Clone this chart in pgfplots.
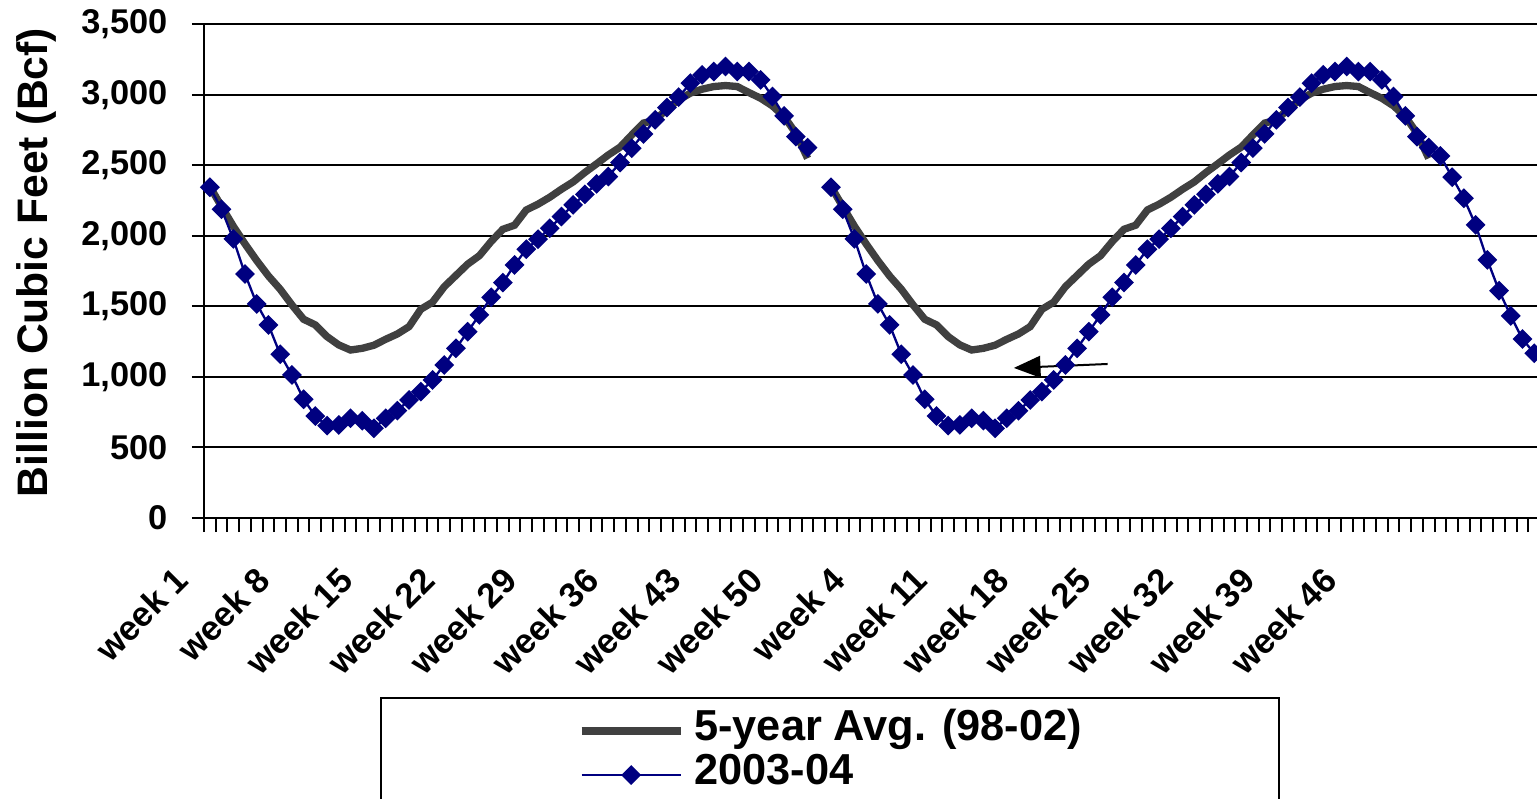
\documentclass[border=0pt]{standalone}
\usepackage{fontspec}
\setmainfont{Liberation Sans}
\usepackage{pgfplots}
\usepackage{pgfplotstable}
\pgfplotsset{compat=1.18}
\usetikzlibrary{arrows.meta}
\definecolor{navy}{RGB}{0,0,128}
\definecolor{avggray}{RGB}{64,64,64}
\pgfplotstableread{
x avg cur
0 2350 2345
1 2208 2189
2 2069 1979
3 1943 1730
4 1825 1518
5 1716 1369
6 1622 1161
7 1511 1014
8 1409 842
9 1369 723
10 1286 655
11 1227 660
12 1191 707
13 1203 690
14 1225 636
15 1267 707
16 1305 761
17 1357 837
18 1480 896
19 1530 979
20 1640 1085
21 1720 1203
22 1800 1321
23 1860 1440
24 1960 1565
25 2047 1669
26 2076 1794
27 2184 1906
28 2225 1977
29 2274 2054
30 2331 2137
31 2383 2220
32 2450 2295
33 2511 2369
34 2574 2421
35 2629 2520
36 2716 2622
37 2800 2723
38 2820 2823
39 2900 2910
40 2964 2984
41 3012 3083
42 3040 3142
43 3059 3165
44 3066 3201
45 3059 3165
46 3016 3165
47 2976 3106
48 2922 2988
49 2846 2851
50 2728 2704
51 2550 2626
52 nan nan
53 2350 2345
54 2208 2189
55 2069 1979
56 1943 1730
57 1825 1518
58 1716 1369
59 1622 1161
60 1511 1014
61 1409 842
62 1369 723
63 1286 655
64 1227 660
65 1191 707
66 1203 690
67 1225 636
68 1267 707
69 1305 761
70 1357 837
71 1480 896
72 1530 979
73 1640 1085
74 1720 1203
75 1800 1321
76 1860 1440
77 1960 1565
78 2047 1669
79 2076 1794
80 2184 1906
81 2225 1977
82 2274 2054
83 2331 2137
84 2383 2220
85 2450 2295
86 2511 2369
87 2574 2421
88 2629 2520
89 2716 2622
90 2800 2723
91 2820 2823
92 2900 2910
93 2964 2984
94 3012 3083
95 3040 3142
96 3059 3165
97 3066 3201
98 3059 3165
99 3016 3165
100 2976 3106
101 2922 2988
102 2846 2851
103 2728 2704
104 2550 2626
105 nan 2567
106 nan 2416
107 nan 2267
108 nan 2078
109 nan 1830
110 nan 1612
111 nan 1433
112 nan 1269
113 nan 1168
}\storage

\begin{document}
\begin{tikzpicture}
\begin{axis}[
  at={(0,0)}, anchor=south west,
  scale only axis, width=399.9pt, height=148.11pt,
  xmin=-0.5, xmax=113.24, ymin=0, ymax=3500,
  clip=false,
  axis lines*=left,
  axis line style={line width=0.6pt, black},
  tick align=outside,
  major tick length=3.6pt, minor tick length=4.2pt,
  tick style={black, line width=0.6pt},
  ytick={0,500,...,3500},
  yticklabels={0,500,{1,000},{1,500},{2,000},{2,500},{3,000},{3,500}},
  ymajorgrids, grid style={line width=0.6pt, black},
  xtick={0,7,...,98},
  xticklabels={week 1,week 8,week 15,week 22,week 29,week 36,week 43,week 50,week 4,week 11,week 18,week 25,week 32,week 39,week 46},
  minor xtick={-0.5,0.5,...,113},
  major x tick style={draw=none},
  yticklabel style={font=\fontsize{10.3}{12}\selectfont\bfseries, inner sep=0pt, anchor=east, xshift=-7.2pt},
  xticklabel style={font=\fontsize{10.4}{12}\selectfont\bfseries, inner sep=0pt, xshift=-11.1pt, yshift=-10.2pt, rotate=45, anchor=north east},
  ylabel={Billion Cubic Feet (Bcf)},
  every axis y label/.style={at={(axis description cs:-0.1175,0.5175)}, rotate=90, anchor=base, font=\fontsize{12.8}{15}\selectfont\bfseries},
  legend style={at={(axis description cs:0.1320,-0.3626)}, anchor=north west,
    draw=black, line width=0.6pt, inner xsep=59.1pt, inner ysep=3.3pt,
    font=\fontsize{13}{15}\selectfont\bfseries,
    row sep=0pt, column sep=3pt,
    nodes={inner sep=0pt, text height=9.5pt, text depth=3.7pt}},
  legend cell align=left,
  legend image code/.code={\draw[mark repeat=2,mark phase=2,#1] plot coordinates {(0pt,0pt) (14.85pt,0pt) (29.7pt,0pt)};},
]
\addplot[avggray, line width=2.2pt, no markers, unbounded coords=jump] table[x=x,y=avg]{\storage};
\addplot[navy, line width=0.7pt, mark=square*, mark size=1.75pt, mark options={rotate=45, solid, fill=navy}, unbounded coords=jump] table[x=x,y=cur]{\storage};
\legend{5-year Avg. (98-02), 2003-04}
\draw[black, line width=0.6pt, -{Triangle[length=8pt,width=6.5pt]}] (axis cs:76.6,1092) -- (axis cs:68.6,1064);
\end{axis}
\pgfresetboundingbox
\path[use as bounding box] (-61.2pt,-84pt) rectangle (399.9pt,155.4pt);
\end{tikzpicture}
\end{document}
